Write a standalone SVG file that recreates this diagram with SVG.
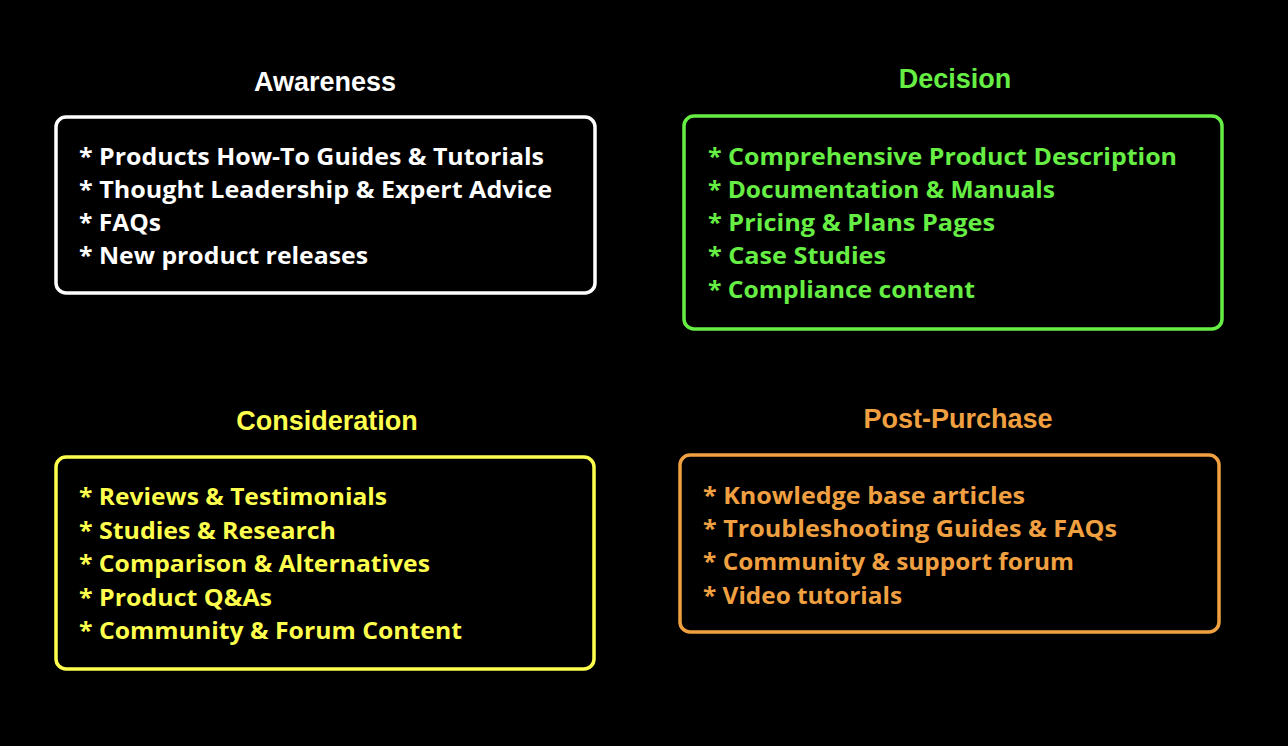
<svg xmlns="http://www.w3.org/2000/svg" width="1288" height="746" viewBox="0 0 1288 746">
<style>
.title{font-family:"Liberation Sans",Arial,sans-serif;font-weight:bold;font-size:27px;text-anchor:middle}
.item{font-family:"Open Sans","Noto Sans",sans-serif;font-weight:bold;font-size:23px}
.box{fill:#000;stroke-width:3.5}
.w{fill:#ffffff}.g{fill:#66ee44}.y{fill:#ffff4d}.o{fill:#f0a040}
</style>
<rect x="0" y="0" width="1288" height="746" fill="#000"/>
<g id="awareness">
<text class="title w" x="325" y="91">Awareness</text>
<rect class="box" x="56" y="117" width="539" height="176" rx="10" stroke="#ffffff"/>
<text class="item w" x="79" y="165" textLength="465" lengthAdjust="spacingAndGlyphs">* Products How-To Guides &amp; Tutorials</text>
<text class="item w" x="79" y="198" textLength="473" lengthAdjust="spacingAndGlyphs">* Thought Leadership &amp; Expert Advice</text>
<text class="item w" x="79" y="231" textLength="82" lengthAdjust="spacingAndGlyphs">* FAQs</text>
<text class="item w" x="79" y="264" textLength="289" lengthAdjust="spacingAndGlyphs">* New product releases</text>
</g>
<g id="decision">
<text class="title g" x="955" y="88">Decision</text>
<rect class="box" x="684" y="116" width="538" height="213" rx="10" stroke="#66ee44"/>
<text class="item g" x="708" y="165" textLength="469" lengthAdjust="spacingAndGlyphs">* Comprehensive Product Description</text>
<text class="item g" x="708" y="198" textLength="347" lengthAdjust="spacingAndGlyphs">* Documentation &amp; Manuals</text>
<text class="item g" x="708" y="231" textLength="287" lengthAdjust="spacingAndGlyphs">* Pricing &amp; Plans Pages</text>
<text class="item g" x="708" y="264" textLength="178" lengthAdjust="spacingAndGlyphs">* Case Studies</text>
<text class="item g" x="708" y="298" textLength="267" lengthAdjust="spacingAndGlyphs">* Compliance content</text>
</g>
<g id="consideration">
<text class="title y" x="327" y="430">Consideration</text>
<rect class="box" x="56" y="457" width="538" height="212" rx="10" stroke="#ffff4d"/>
<text class="item y" x="79" y="505" textLength="308" lengthAdjust="spacingAndGlyphs">* Reviews &amp; Testimonials</text>
<text class="item y" x="79" y="539" textLength="257" lengthAdjust="spacingAndGlyphs">* Studies &amp; Research</text>
<text class="item y" x="79" y="572" textLength="351" lengthAdjust="spacingAndGlyphs">* Comparison &amp; Alternatives</text>
<text class="item y" x="79" y="606" textLength="193" lengthAdjust="spacingAndGlyphs">* Product Q&amp;As</text>
<text class="item y" x="79" y="639" textLength="383" lengthAdjust="spacingAndGlyphs">* Community &amp; Forum Content</text>
</g>
<g id="post-purchase">
<text class="title o" x="958" y="428">Post-Purchase</text>
<rect class="box" x="680" y="455" width="539" height="177" rx="10" stroke="#f0a040"/>
<text class="item o" x="703" y="504" textLength="322" lengthAdjust="spacingAndGlyphs">* Knowledge base articles</text>
<text class="item o" x="703" y="537" textLength="414" lengthAdjust="spacingAndGlyphs">* Troubleshooting Guides &amp; FAQs</text>
<text class="item o" x="703" y="570" textLength="371" lengthAdjust="spacingAndGlyphs">* Community &amp; support forum</text>
<text class="item o" x="703" y="604" textLength="199" lengthAdjust="spacingAndGlyphs">* Video tutorials</text>
</g>
<g id="connectors"></g>
</svg>
